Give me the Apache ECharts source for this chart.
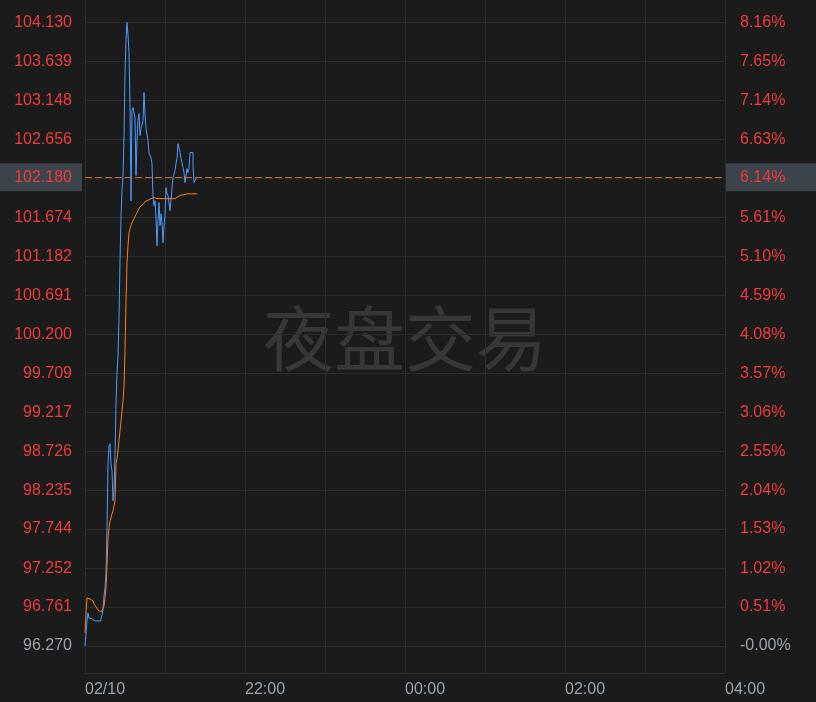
<!DOCTYPE html>
<html><head><meta charset="utf-8">
<script src="https://cdn.jsdelivr.net/npm/echarts@6/dist/echarts.min.js"></script>
<style>html,body{margin:0;padding:0;background:#1b1b1b}#c{width:816px;height:702px}</style>
</head><body><div id="c"></div><script>
// x axis: 45-second slots over the night session
const timeLabels = ['02/10', '22:00', '00:00', '02:00', '04:00'];
const sessionSlots = 640;
const tickValues = [96.270, 96.761, 97.252, 97.744, 98.235, 98.726, 99.217, 99.709, 100.200,
  100.691, 101.182, 101.674, 102.165, 102.656, 103.148, 103.639, 104.130];
const leftLabels = ['96.270', '96.761', '97.252', '97.744', '98.235', '98.726', '99.217', '99.709', '100.200',
  '100.691', '101.182', '101.674', '102.165', '102.656', '103.148', '103.639', '104.130'];
const rightLabels = ['-0.00%', '0.51%', '1.02%', '1.53%', '2.04%', '2.55%', '3.06%', '3.57%', '4.08%',
  '4.59%', '5.10%', '5.61%', '6.12%', '6.63%', '7.14%', '7.65%', '8.16%'];
const lastPrice = 102.180;
const lastPriceLabel = '102.180';
const lastPctLabel = '6.14%';
const watermark = '夜盘交易';

const prices = [
  96.270, 96.422, 96.586, 96.687, 96.623, 96.611, 96.611, 96.611, 96.598, 96.586,
  96.586, 96.586, 96.586, 96.586, 96.586, 96.586, 96.623, 96.661, 96.737, 96.901,
  97.002, 97.179, 97.759, 98.554, 98.793, 98.819, 98.566, 98.478, 98.100, 98.226,
  98.667, 99.336, 99.714, 99.929, 100.396, 101.127, 101.670, 102.011, 102.175, 102.704,
  103.499, 103.916, 104.130, 103.966, 103.752, 103.108, 101.884, 103.020, 103.058, 103.045,
  102.931, 102.200, 102.641, 102.894, 102.982, 102.704, 102.805, 102.831, 102.894, 103.247,
  102.982, 102.793, 102.805, 102.641, 102.477, 102.452, 102.427, 102.351, 101.947, 101.821,
  101.884, 101.657, 101.317, 101.632, 101.859, 101.569, 101.720, 101.607, 101.354, 101.569,
  101.695, 102.048, 101.973, 101.947, 101.859, 101.758, 101.884, 102.048, 102.175, 102.200,
  102.263, 102.351, 102.414, 102.603, 102.616, 102.490, 102.414, 102.364, 102.301, 102.238,
  102.111, 102.200, 102.288, 102.238, 102.288, 102.490, 102.490, 102.490, 102.326, 102.111,
  102.099, 102.162, 102.180
];
const avgPrices = [
  96.434, 96.687, 96.876, 96.863, 96.863, 96.851, 96.838, 96.838, 96.813, 96.800,
  96.775, 96.762, 96.737, 96.724, 96.712, 96.699, 96.687, 96.712, 96.737, 96.775,
  96.876, 97.002, 97.280, 97.633, 97.759, 97.847, 97.885, 97.936, 97.973, 97.986,
  98.100, 98.566, 98.629, 98.730, 98.856, 98.983, 99.109, 99.235, 99.361, 99.538,
  99.992, 100.623, 101.102, 101.317, 101.481, 101.531, 101.569, 101.607, 101.632, 101.657,
  101.682, 101.708, 101.733, 101.758, 101.783, 101.809, 101.821, 101.834, 101.846, 101.859,
  101.872, 101.884, 101.890, 101.897, 101.903, 101.910, 101.916, 101.922, 101.922, 101.910,
  101.910, 101.910, 101.910, 101.910, 101.910, 101.910, 101.910, 101.910, 101.910, 101.910,
  101.910, 101.910, 101.910, 101.910, 101.910, 101.910, 101.910, 101.910, 101.910, 101.910,
  101.922, 101.928, 101.935, 101.941, 101.947, 101.953, 101.960, 101.960, 101.960, 101.960,
  101.960, 101.970, 101.970, 101.970, 101.970, 101.970, 101.970, 101.970, 101.970, 101.970,
  101.970, 101.970, 101.970
];

const FONT = 'Liberation Sans';
const RED = '#ef3b3b';
const GREY = '#9aa3ab';
const GRID = '#2c2c2c';
const BOX = '#3c444b';
const DASH = { color: '#c8692c', type: [7, 3], width: 1 };

function idxOf(v) {
  let best = 0;
  for (let i = 1; i < tickValues.length; i++) {
    if (Math.abs(tickValues[i] - v) < Math.abs(tickValues[best] - v)) best = i;
  }
  return best;
}
const rich = {
  r: { color: RED, fontSize: 16, fontFamily: FONT },
  g: { color: GREY, fontSize: 16, fontFamily: FONT }
};

const chart = echarts.init(document.getElementById('c'));
chart.setOption({
  backgroundColor: '#1b1b1b',
  animation: false,
  grid: { left: 85, right: 91, top: 0, bottom: 29 },
  graphic: [{
    type: 'text', x: 405, y: 338, z: 0, silent: true,
    style: {
      text: watermark, fill: '#373737', fontSize: 71,
      fontFamily: 'Noto Sans CJK SC', align: 'center', verticalAlign: 'middle'
    }
  }],
  xAxis: {
    type: 'value', min: 0, max: sessionSlots, interval: 80,
    axisLine: { show: true, lineStyle: { color: GRID } },
    axisTick: { show: false },
    splitLine: { show: true, lineStyle: { color: GRID, width: 1 } },
    axisLabel: {
      color: GREY, fontSize: 16, fontFamily: FONT, margin: 9, align: 'left',
      formatter: v => (v % 160 === 0 ? timeLabels[v / 160] : '')
    }
  },
  yAxis: [{
    type: 'value', min: 95.9296, max: 104.4136, position: 'left',
    axisLine: { show: false }, axisTick: { show: false, customValues: tickValues },
    splitLine: { show: true, lineStyle: { color: GRID, width: 1 } },
    axisLabel: {
      customValues: tickValues, margin: 13, rich: rich,
      formatter: v => { const i = idxOf(v); return (i === 0 ? '{g|' : '{r|') + leftLabels[i] + '}'; }
    }
  }, {
    type: 'value', min: 95.9296, max: 104.4136, position: 'right',
    axisLine: { show: false }, axisTick: { show: false, customValues: tickValues },
    splitLine: { show: false },
    axisLabel: {
      customValues: tickValues, margin: 15, rich: rich,
      formatter: v => { const i = idxOf(v); return (i === 0 ? '{g|' : '{r|') + rightLabels[i] + '}'; }
    }
  }],
  series: [{
    type: 'line', name: 'price', showSymbol: false, clip: false, step: 'end',
    data: prices.map((p, i) => [i, p]),
    lineStyle: { color: '#4b9bff', width: 1 }, itemStyle: { color: '#4b9bff' },
    z: 3,
    markLine: {
      silent: true, symbol: ['none', 'none'], lineStyle: DASH,
      data: [{
        yAxis: lastPrice,
        label: {
          show: true, position: 'start', distance: 3, formatter: lastPriceLabel,
          color: RED, fontSize: 16, fontFamily: FONT, backgroundColor: BOX,
          width: 72, align: 'right', lineHeight: 16, padding: [6, 10, 6, 0]
        }
      }]
    }
  }, {
    type: 'line', name: 'avg', showSymbol: false, clip: false, step: 'end',
    data: avgPrices.map((p, i) => [i, p]),
    lineStyle: { color: '#ff7d1e', width: 1 }, itemStyle: { color: '#ff7d1e' },
    z: 4,
    markLine: {
      silent: true, symbol: ['none', 'none'], lineStyle: DASH,
      data: [{
        yAxis: lastPrice,
        label: {
          show: true, position: 'end', distance: 1, formatter: lastPctLabel,
          color: RED, fontSize: 16, fontFamily: FONT, backgroundColor: BOX,
          width: 76, align: 'left', lineHeight: 16, padding: [6, 0, 6, 14]
        }
      }]
    }
  }]
});
</script></body></html>
